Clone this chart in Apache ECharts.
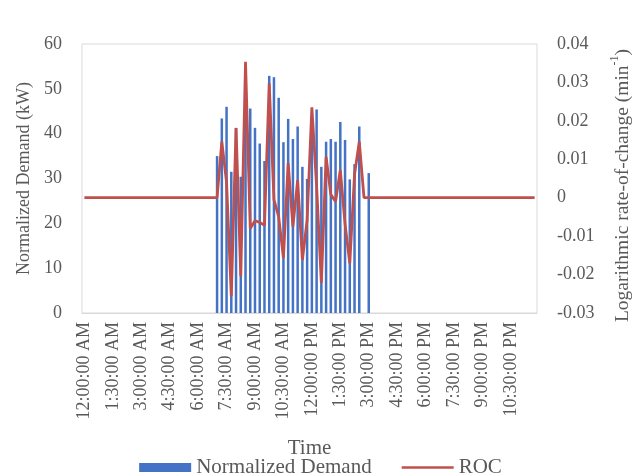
<!DOCTYPE html>
<html>
<head>
<meta charset="utf-8">
<script src="https://cdn.jsdelivr.net/npm/echarts@6/dist/echarts.min.js"></script>
<style>html,body{margin:0;padding:0;background:#fff}#c{width:641px;height:475px}</style>
</head>
<body>
<div id="c"></div>
<script>
// 15-minute time categories over a day
const timeLabels = [];
for (let i = 0; i < 96; i++) {
  const m = i * 15, h = Math.floor(m / 60), mm = m % 60;
  const h12 = h % 12 === 0 ? 12 : h % 12;
  timeLabels.push(h12 + ':' + String(mm).padStart(2, '0') + ':00 ' + (h < 12 ? 'AM' : 'PM'));
}

// Normalized Demand (kW), indices 28..60 (7:00 AM .. 3:00 PM); zero elsewhere
const demandActive = [35.0, 43.4, 46.0, 31.5, 41.3, 30.4, 51.7, 45.6, 41.3, 37.8, 33.9,
  52.9, 52.6, 48.0, 38.1, 43.3, 38.8, 41.6, 32.6, 29.9, 42.5, 45.4, 32.6, 38.2, 38.8,
  38.2, 42.6, 38.6, 29.8, 33.2, 41.6, 0, 31.2];
// ROC (min^-1), same indices 28..60
const rocActive = [0, 0.0146, 0.0040, -0.0256, 0.0181, -0.0204, 0.0354, -0.0080, -0.0060,
  -0.0064, -0.0072, 0.0298, -0.0005, -0.0050, -0.0157, 0.0090, -0.0075, 0.0046, -0.0162,
  -0.0058, 0.0235, 0.0030, -0.0222, 0.0106, 0.0008, -0.0010, 0.0072, -0.0068, -0.0171,
  0.0060, 0.0146, 0, 0];
const activeStart = 28;

const demand = timeLabels.map((_, i) => {
  const k = i - activeStart;
  return (k >= 0 && k < demandActive.length) ? demandActive[k] : 0;
});
const roc = timeLabels.map((_, i) => {
  const k = i - activeStart;
  return (k >= 0 && k < rocActive.length) ? rocActive[k] : 0;
});

const font = 'Liberation Serif';
const txt = '#595959';
const chart = echarts.init(document.getElementById('c'));
chart.setOption({
  animation: false,
  textStyle: { fontFamily: font },
  grid: { left: 82, right: 100, top: 44, bottom: 162, show: true, borderColor: '#d9d9d9', borderWidth: 1 },
  legend: {
    top: 452, left: 'center', itemWidth: 52, itemHeight: 9, itemGap: 30,
    textStyle: { fontFamily: font, fontSize: 21, color: txt },
    data: [
      { name: 'Normalized Demand', icon: 'rect' },
      { name: 'ROC', icon: 'path://M0,0 L52,0 L52,2.6 L0,2.6 Z' }
    ]
  },
  xAxis: {
    type: 'category', data: timeLabels,
    name: 'Time', nameLocation: 'middle', nameGap: 125,
    nameTextStyle: { fontFamily: font, fontSize: 21, color: txt },
    axisLine: { show: true, lineStyle: { color: '#d9d9d9' } },
    axisTick: { show: false },
    axisLabel: { interval: 5, rotate: 90, fontFamily: font, fontSize: 18, color: txt, margin: 9 },
    splitLine: { show: false }
  },
  yAxis: [
    {
      type: 'value', min: 0, max: 60, interval: 10,
      name: 'Normalized Demand (kW)', nameLocation: 'middle', nameGap: 46,
      nameTextStyle: { fontFamily: font, fontSize: 18, color: txt },
      axisLine: { show: false }, axisTick: { show: false },
      axisLabel: { fontFamily: font, fontSize: 18, color: txt, margin: 20 },
      splitLine: { show: false }
    },
    {
      type: 'value', min: -0.03, max: 0.04, interval: 0.01,
      name: '{a|Logarithmic rate-of-change (min}{s|-1}{a|)}', nameLocation: 'middle', nameGap: 72, nameRotate: 90,
      nameTextStyle: {
        fontFamily: font, fontSize: 19.5, color: txt, padding: [0, 14, 0, 0],
        rich: {
          a: { fontFamily: font, fontSize: 19.5, color: txt, lineHeight: 24, verticalAlign: 'bottom' },
          s: { fontFamily: font, fontSize: 12, color: txt, lineHeight: 24, verticalAlign: 'top' }
        }
      },
      axisLine: { show: false }, axisTick: { show: false },
      axisLabel: {
        fontFamily: font, fontSize: 18, color: txt, margin: 20,
        formatter: v => String(Math.round(v * 100) / 100)
      },
      splitLine: { show: false }
    }
  ],
  series: [
    {
      name: 'Normalized Demand', type: 'bar', data: demand, yAxisIndex: 0,
      barWidth: 2.5, itemStyle: { color: '#4472C4' }
    },
    {
      name: 'ROC', type: 'line', data: roc, yAxisIndex: 1,
      showSymbol: false, symbol: 'none',
      lineStyle: { color: '#C0504D', width: 2.8 }, itemStyle: { color: '#C0504D' }
    }
  ]
});
</script>
</body>
</html>
